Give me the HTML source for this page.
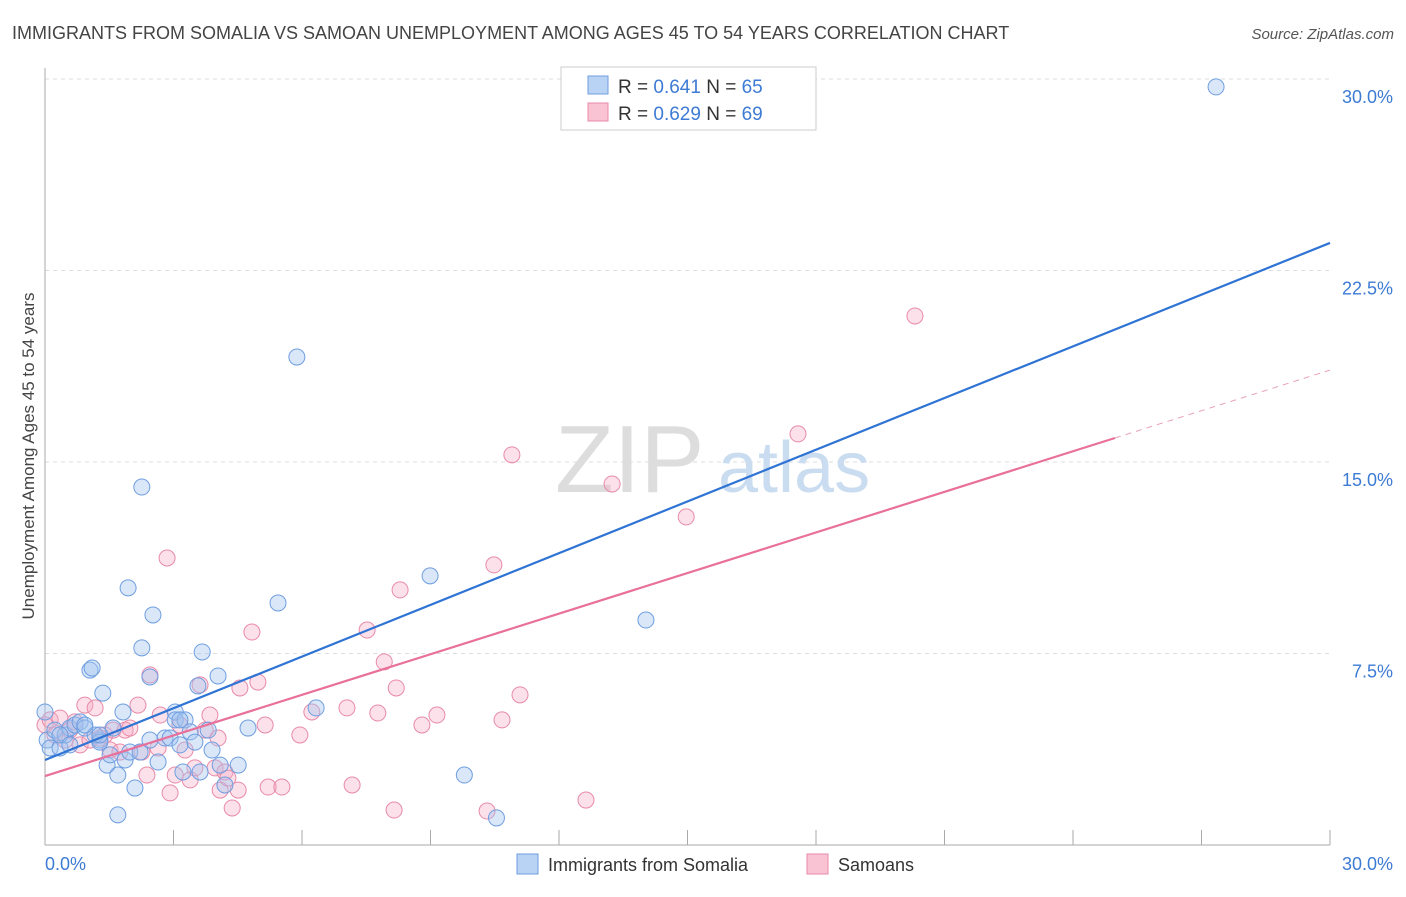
<!DOCTYPE html>
<html><head><meta charset="utf-8"><style>
body{margin:0;background:#fff;font-family:"Liberation Sans",sans-serif;}
svg text{font-family:"Liberation Sans",sans-serif;}
</style></head><body>
<svg id="chart" width="1406" height="892" xmlns="http://www.w3.org/2000/svg">
<text x="12" y="39" font-size="18" fill="#444">IMMIGRANTS FROM SOMALIA VS SAMOAN UNEMPLOYMENT AMONG AGES 45 TO 54 YEARS CORRELATION CHART</text>
<text x="1394" y="39" font-size="15" fill="#555" text-anchor="end" font-style="italic">Source: ZipAtlas.com</text>
<g id="grid"></g>
<g><text x="555" y="492" font-size="96" fill="#ddd" font-family="Liberation Serif">ZIP</text><text x="718" y="492" font-size="72" fill="#c9dcf0">atlas</text></g>
<g id="axes"></g>
<g id="pts"></g>
<g id="lines"></g>
<text transform="translate(34,456) rotate(-90)" font-size="17" fill="#444" text-anchor="middle">Unemployment Among Ages 45 to 54 years</text>
<g>
<rect x="561" y="67" width="255" height="63" fill="#fff" stroke="#ccc"/>
<rect x="588" y="76" width="20" height="18" fill="#b9d3f5" stroke="#6f9ee0"/>
<rect x="588" y="103" width="20" height="18" fill="#f9c3d4" stroke="#e88aa8"/>
<text x="618" y="93" font-size="19" fill="#333">R = <tspan fill="#3d7bd4">0.641</tspan>   N = <tspan fill="#3d7bd4">65</tspan></text>
<text x="618" y="120" font-size="19" fill="#333">R = <tspan fill="#3d7bd4">0.629</tspan>   N = <tspan fill="#3d7bd4">69</tspan></text>
</g>
<g>
<rect x="517" y="854" width="21" height="20" fill="#b9d3f5" stroke="#6f9ee0"/>
<text x="548" y="871" font-size="18" fill="#333">Immigrants from Somalia</text>
<rect x="807" y="854" width="21" height="20" fill="#f9c3d4" stroke="#e88aa8"/>
<text x="838" y="871" font-size="18" fill="#333">Samoans</text>
</g>
</svg>
<script>
const xTicks=[0,3,6,9,12,15,18,21,24,27,30];
const yTicks=[7.5,15,22.5,30];
const yTickLabels=["7.5%","15.0%","22.5%","30.0%"];
const somaliaX=[0,0.05,0.12,0.23,0.35,0.47,0.58,0.70,0.82,0.93,1.05,1.10,1.28,1.35,1.45,1.52,1.59,1.70,1.70,1.82,1.87,1.94,1.98,2.10,2.22,2.26,2.26,2.45,2.52,2.64,2.80,2.92,3.04,3.04,3.15,3.22,3.27,3.39,3.50,3.57,3.62,3.67,3.81,3.90,4.04,4.09,4.20,4.51,4.74,5.44,5.88,6.33,8.99,9.79,10.54,14.03,27.34,1.17,0.35,0.58,0.93,1.28,2.45,3.15,1.28];
const somaliaY=[5.21,4.11,3.80,4.50,3.80,4.31,4.58,4.70,4.82,4.58,6.85,6.93,4.11,5.95,3.13,3.53,4.58,2.74,1.18,5.21,3.33,10.07,3.64,2.23,3.64,14.02,7.72,6.58,9.01,3.25,4.19,4.19,5.21,4.90,3.92,2.86,4.90,4.43,4.03,6.23,2.86,7.56,4.50,3.72,6.62,3.13,2.35,3.13,4.58,9.48,19.11,5.37,10.54,2.74,1.06,8.81,29.69,4.31,4.31,3.92,4.70,4.03,4.11,4.90,4.31];
const samoanX=[0,0.12,0.23,0.35,0.47,0.58,0.70,0.82,0.93,1.05,1.17,1.28,1.40,1.52,1.59,1.75,1.87,1.98,2.17,2.26,2.38,2.45,2.64,2.69,2.85,2.92,3.04,3.15,3.27,3.39,3.50,3.62,3.74,3.85,3.97,4.04,4.09,4.20,4.27,4.37,4.51,4.55,4.83,4.97,5.14,5.21,5.53,5.95,6.23,7.05,7.17,7.52,7.77,7.92,8.15,8.20,8.29,8.80,9.15,10.32,10.48,10.67,10.90,11.09,12.63,13.24,14.97,17.58,20.31];
const samoanY=[4.70,4.90,4.31,4.97,4.11,4.50,4.82,3.92,5.48,4.11,5.37,4.19,4.31,3.72,4.50,3.64,4.50,4.58,5.48,3.64,2.74,6.66,3.80,5.09,11.24,2.04,2.74,4.70,3.72,2.55,3.02,6.27,4.50,5.09,3.02,4.19,2.15,2.86,2.62,1.45,2.15,6.15,8.34,6.38,4.70,2.27,2.27,4.31,5.21,5.37,2.35,8.42,5.17,7.17,1.37,6.15,9.99,4.70,5.09,1.33,10.97,4.90,15.28,5.88,1.76,14.14,12.85,16.10,20.72];
const somaliaLine=[[0,3.33],[30,23.58]];
const samoanLine=[[0,2.7],[24.98,15.94]];
const samoanDash=[[24.98,15.94],[30,18.6]];
const NS="http://www.w3.org/2000/svg";
const X=v=>45+v*(1285/30), Y=v=>845-v*(766/30);
function mk(t,a,p){const e=document.createElementNS(NS,t);for(const k in a)e.setAttribute(k,a[k]);p.appendChild(e);return e;}
const grid=document.getElementById('grid'),axes=document.getElementById('axes'),pts=document.getElementById('pts'),lines=document.getElementById('lines');
yTicks.forEach((v,i)=>{
 const g=mk('line',{x1:45,x2:1330,y1:Y(v),y2:Y(v),stroke:'#ddd','stroke-dasharray':'4,4'},grid);
 
 
 const t=mk('text',{x:1393,y:Y(v)+24,'font-size':18,fill:'#3d7bd4','text-anchor':'end'},axes);
 t.textContent=yTickLabels[i];
 
 
});
const ax=mk('line',{x1:45,x2:1330,y1:845,y2:845,stroke:'#aaa'},axes);


const ay=mk('line',{x1:45,x2:45,y1:68,y2:845,stroke:'#aaa'},axes);


xTicks.forEach(v=>{
 const l=mk('line',{x1:X(v),x2:X(v),y1:830,y2:845,stroke:'#aaa'},axes);
 
 
});
const xl0=mk('text',{x:45,y:870,'font-size':18,fill:'#3d7bd4'},axes);xl0.textContent='0.0%';


const xl1=mk('text',{x:1393,y:870,'font-size':18,fill:'#3d7bd4','text-anchor':'end'},axes);xl1.textContent='30.0%';


samoanX.forEach((v,i)=>{
 const c=mk('circle',{cx:X(v),cy:Y(samoanY[i]),r:8,fill:'rgba(246,170,196,0.35)',stroke:'#e88aa8','stroke-width':1},pts);
 
 
});
somaliaX.forEach((v,i)=>{
 const c=mk('circle',{cx:X(v),cy:Y(somaliaY[i]),r:8,fill:'rgba(160,195,240,0.4)',stroke:'#6f9ee0','stroke-width':1},pts);
 
 
});
function ln(d,col,name,dash){
 const l=mk('line',{x1:X(d[0][0]),y1:Y(d[0][1]),x2:X(d[1][0]),y2:Y(d[1][1]),stroke:col,'stroke-width':dash?1:2.2},lines);
 if(dash)l.setAttribute('stroke-dasharray','6,5');
 
 
}
ln(somaliaLine,'#2f74d4','somalia-trend-line');
ln(samoanLine,'#e8709a','samoan-trend-line');
ln(samoanDash,'#e8a0b8','samoan-trend-extension',true);
</script>
</body></html>
